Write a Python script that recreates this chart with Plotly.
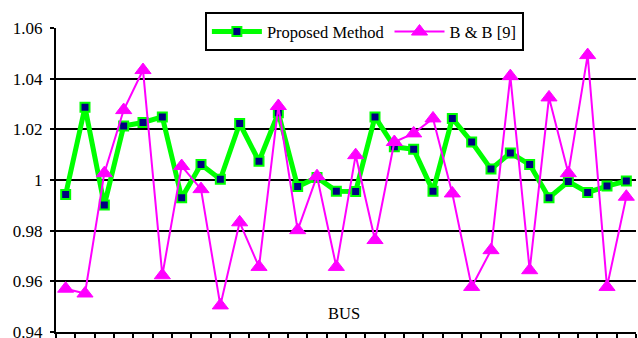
import plotly.graph_objects as go

buses = list(range(1, 31))
proposed = [0.9943, 1.0287, 0.9901, 1.0213, 1.0227, 1.0249, 0.9930, 1.0061, 1.0003, 1.0223,
            1.0074, 1.0265, 0.9974, 1.0010, 0.9956, 0.9955, 1.0249, 1.0131, 1.0121, 0.9956,
            1.0243, 1.0150, 1.0043, 1.0107, 1.0061, 0.9930, 0.9994, 0.9951, 0.9976, 0.9996]
bb9 = [0.9571, 0.9552, 1.0027, 1.0276, 1.0434, 0.9624, 1.0055, 0.9964, 0.9505, 0.9833,
       0.9657, 1.0292, 0.9802, 1.0015, 0.9657, 1.0098, 0.9763, 1.0150, 1.0184, 1.0243,
       0.9947, 0.9578, 0.9723, 1.0410, 0.9644, 1.0326, 1.0027, 1.0493, 0.9578, 0.9934]
y_ticks = [0.94, 0.96, 0.98, 1.00, 1.02, 1.04, 1.06]
y_tick_text = ["0.94", "0.96", "0.98", "1", "1.02", "1.04", "1.06"]
series_names = ["Proposed Method", "B & B [9]"]
x_title = "BUS"

FONT = "Liberation Serif"

fig = go.Figure()
fig.add_trace(go.Scatter(
    x=buses, y=proposed, name=series_names[0], mode="lines+markers",
    line=dict(color="#00FF00", width=5),
    marker=dict(symbol="square", size=9, color="#000080",
                line=dict(color="#00FF00", width=2)),
    cliponaxis=False,
))
fig.add_trace(go.Scatter(
    x=buses, y=bb9, name=series_names[1], mode="lines+markers",
    line=dict(color="#FF00FF", width=2),
    marker=dict(symbol="triangle-up", size=14, color="#FF00FF",
                line=dict(color="#FF00FF", width=1)),
    cliponaxis=False,
))

fig.update_layout(
    width=638, height=338,
    margin=dict(l=56, r=2, t=28, b=6, autoexpand=False),
    paper_bgcolor="white", plot_bgcolor="white",
    font=dict(family=FONT, size=16.5, color="black"),
    showlegend=True,
    legend=dict(
        orientation="h", x=0.2567, y=1.0516, xanchor="left", yanchor="top",
        bgcolor="white", bordercolor="black", borderwidth=2,
        font=dict(family=FONT, size=16.5, color="black"),
        itemwidth=50, tracegroupgap=0, entrywidth=0,
    ),
    xaxis=dict(
        range=[0.5, 30.5],
        tickmode="array", tickvals=[b - 0.5 for b in buses] + [30.5],
        showticklabels=False, ticks="outside", ticklen=5, tickwidth=1.5,
        tickcolor="black", showgrid=False, zeroline=False,
        showline=True, linecolor="black", linewidth=2,
    ),
    yaxis=dict(
        range=[0.94, 1.06],
        tickmode="array", tickvals=y_ticks, ticktext=y_tick_text,
        ticks="outside", ticklen=4, tickwidth=1.5, tickcolor="black",
        ticklabelstandoff=4, ticklabeloverflow="allow",
        showgrid=True, gridcolor="black", gridwidth=1.5,
        zeroline=False, showline=True, linecolor="black", linewidth=2,
        tickfont=dict(family=FONT, size=17, color="black"),
    ),
    annotations=[dict(
        text=x_title, xref="paper", yref="paper", x=0.4957, y=0.060,
        xanchor="center", yanchor="middle", showarrow=False,
        font=dict(family=FONT, size=16.5, color="black"),
    )],
)

fig.write_html("out.html", config={"displayModeBar": False},
               post_script="document.body.style.margin='0';")
